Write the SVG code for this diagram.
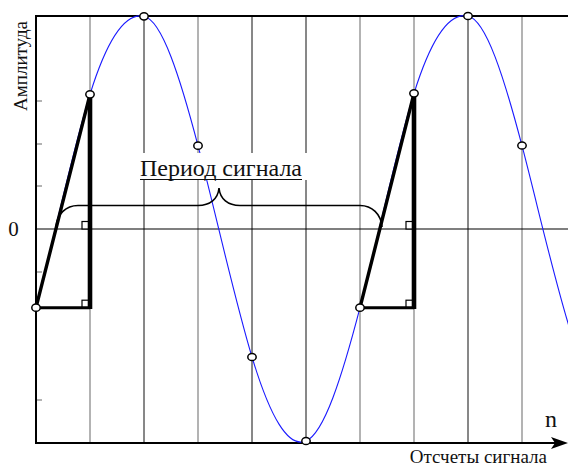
<svg xmlns="http://www.w3.org/2000/svg" width="568" height="466" viewBox="0 0 568 466">
<style>
.grid-g{stroke:#808080;stroke-width:1.2}
.grid-k{stroke:#111;stroke-width:1}
.tick{stroke:#808080;stroke-width:1.2}
.axis{stroke:#000;stroke-width:2;fill:none}
.wave{stroke:#1a1aff;stroke-width:1.1;fill:none}
.brace{stroke:#000;stroke-width:1.6;fill:none}
.sq{fill:#fff;stroke:#000;stroke-width:1.2}
.hyp{stroke:#000;stroke-width:3.4;stroke-linecap:round}
.vert{stroke:#000;stroke-width:4.6}
.base{stroke:#000;stroke-width:3}
.pt{fill:#fff;stroke:#000;stroke-width:1.5}
text{fill:#111}
</style>
<rect width="568" height="466" fill="#fff"/>
<g id="grid">
<line class="grid-g" x1="90" y1="16" x2="90" y2="443"/>
<line class="grid-k" x1="144" y1="16" x2="144" y2="443"/>
<line class="grid-g" x1="198" y1="16" x2="198" y2="443"/>
<line class="grid-k" x1="252" y1="16" x2="252" y2="443"/>
<line class="grid-k" x1="306" y1="16" x2="306" y2="443"/>
<line class="grid-g" x1="360" y1="16" x2="360" y2="443"/>
<line class="grid-g" x1="414" y1="16" x2="414" y2="443"/>
<line class="grid-k" x1="468" y1="16" x2="468" y2="443"/>
<line class="grid-g" x1="522" y1="16" x2="522" y2="443"/>
<line class="tick" x1="36" y1="101" x2="42" y2="101"/>
<line class="tick" x1="36" y1="144" x2="42" y2="144"/>
<line class="tick" x1="36" y1="186" x2="42" y2="186"/>
<line class="tick" x1="36" y1="272" x2="42" y2="272"/>
<line class="tick" x1="36" y1="400" x2="42" y2="400"/>
</g>
<g id="axes">
<line class="axis" x1="36" y1="16" x2="568" y2="16"/>
<line x1="36" y1="229" x2="568" y2="229" stroke="#000" stroke-width="1.2"/>
<line class="axis" x1="36" y1="15" x2="36" y2="444"/>
<line class="axis" x1="35" y1="443" x2="556" y2="443"/>
<path d="M568,443 L551,437 L555,443 L551,449 Z" fill="#000"/>
</g>
<path id="signal" class="wave" d="M36,307.7 C54,238.5 72,152 90,94.3 C108,36.6 126,12.4 144,16.3 C162,20.2 180,77.1 198,145.7 C216,214.3 234,297.4 252,357 C270,416.6 288,448.5 306,441 C324,433.5 342,376.9 360,307.7 C378,238.5 396,150.7 414,93.3 C432,35.9 450,12.1 468,16 C486,19.9 504,77.1 522,145.7 C537.3,204.1 552.7,273.7 570,329.6"/>
<g id="period-label">
<rect x="137" y="153" width="172" height="27" fill="#fff"/>
<text x="140" y="176" font-family="'Liberation Serif', 'DejaVu Serif', serif" font-size="24">Период сигнала</text>
<line x1="140" y1="179.5" x2="302" y2="179.5" stroke="#111" stroke-width="1.2"/>
</g>
<path id="brace" class="brace" d="M56,227 C57,214 66,205.5 78,205.5 L198,205.5 C210,205.5 218,199 219,188 C220,199 228,205.5 240,205.5 L360,205.5 C372,205.5 381,214 382,227"/>
<g id="triangle-left">
<rect class="sq" x="82" y="221.5" width="8" height="7.5"/>
<rect class="sq" x="82" y="300.2" width="8" height="7.5"/>
<line class="base" x1="36" y1="307.7" x2="90" y2="307.7"/>
<line class="vert" x1="90" y1="94.3" x2="90" y2="309"/>
<line class="hyp" x1="36" y1="307.7" x2="90" y2="94.3"/>
</g>
<g id="triangle-right">
<rect class="sq" x="406" y="221.5" width="8" height="7.5"/>
<rect class="sq" x="406" y="300.2" width="8" height="7.5"/>
<line class="base" x1="360" y1="307.7" x2="414" y2="307.7"/>
<line class="vert" x1="414" y1="93.3" x2="414" y2="309"/>
<line class="hyp" x1="360" y1="307.7" x2="414" y2="93.3"/>
</g>
<g id="samples">
<ellipse class="pt" cx="36" cy="307.7" rx="4.2" ry="3.6"/>
<ellipse class="pt" cx="90" cy="94.3" rx="4.2" ry="3.6"/>
<ellipse class="pt" cx="144" cy="16.3" rx="4.2" ry="3.6"/>
<ellipse class="pt" cx="198" cy="145.7" rx="4.2" ry="3.6"/>
<ellipse class="pt" cx="252" cy="357" rx="4.2" ry="3.6"/>
<ellipse class="pt" cx="306" cy="441" rx="4.2" ry="3.6"/>
<ellipse class="pt" cx="360" cy="307.7" rx="4.2" ry="3.6"/>
<ellipse class="pt" cx="414" cy="93.3" rx="4.2" ry="3.6"/>
<ellipse class="pt" cx="468" cy="16" rx="4.2" ry="3.6"/>
<ellipse class="pt" cx="522" cy="145.5" rx="4.2" ry="3.6"/>
</g>
<g id="labels" font-family="'Liberation Serif', 'DejaVu Serif', serif">
<text font-size="19" text-anchor="middle" transform="translate(27,66) rotate(-90)">Амплитуда</text>
<text x="13.5" y="236" font-size="21" text-anchor="middle">0</text>
<text x="551" y="427" font-size="24" text-anchor="middle">n</text>
<text x="547" y="463" font-size="19" text-anchor="end">Отсчеты сигнала</text>
</g>
</svg>
